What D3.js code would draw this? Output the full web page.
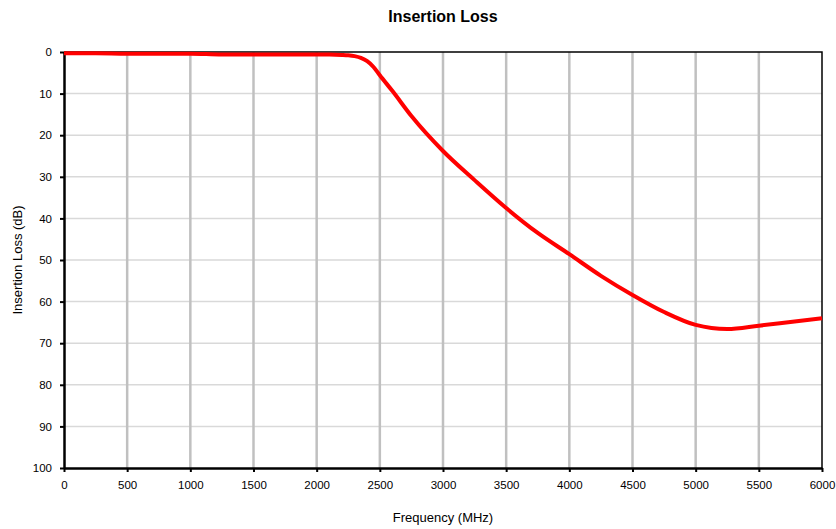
<!DOCTYPE html>
<head>
  <meta charset="utf-8">
  <title>Insertion Loss</title>
  <style>
    body { margin: 0; background: #fff; }
    text { font-family: "Liberation Sans", Arial, sans-serif; fill: #000; }
  </style>
</head>
<body>
  <div id="chart"></div>
  <script src="https://d3js.org/d3.v7.min.js"></script>
  <script>
    // data
    var freq = [0, 250, 500, 750, 1000, 1250, 1500, 1750, 2000, 2100, 2200, 2250, 2300, 2350, 2400, 2450, 2500, 2600, 2750, 3000, 3250, 3500, 3750, 4000, 4250, 4500, 4750, 5000, 5250, 5500, 5750, 6000];
    var loss = [0.3, 0.3, 0.4, 0.4, 0.4, 0.6, 0.6, 0.6, 0.6, 0.6, 0.7, 0.8, 1.0, 1.4, 2.2, 3.6, 5.6, 9.4, 15.4, 23.8, 30.8, 37.5, 43.5, 48.6, 53.8, 58.4, 62.5, 65.6, 66.6, 65.8, 64.9, 64.0];
    var xTicks = [0, 500, 1000, 1500, 2000, 2500, 3000, 3500, 4000, 4500, 5000, 5500, 6000];
    var yTicks = [0, 10, 20, 30, 40, 50, 60, 70, 80, 90, 100];

    var width = 836, height = 529;
    var margin = {top: 52, right: 14, bottom: 61, left: 64};

    var svg = d3.select("#chart")
      .append("svg")
      .attr("width", width)
      .attr("height", height);

    var x = d3.scaleLinear().domain([0, 6000]).range([margin.left, width - margin.right]);
    var y = d3.scaleLinear().domain([0, 100]).range([margin.top, height - margin.bottom]);

    // horizontal grid
    svg.append("g")
      .selectAll("line")
      .data(yTicks.slice(1, -1))
      .enter().append("line")
      .attr("x1", x(0)).attr("x2", x(6000))
      .attr("y1", d => y(d)).attr("y2", d => y(d))
      .attr("stroke", "#d9d9d9")
      .attr("stroke-width", 1.5);

    // vertical grid
    svg.append("g")
      .selectAll("line")
      .data(xTicks.slice(1, -1))
      .enter().append("line")
      .attr("x1", d => x(d)).attr("x2", d => x(d))
      .attr("y1", y(0)).attr("y2", y(100))
      .attr("stroke", "#c0c0c0")
      .attr("stroke-width", 2.5);

    // top and right frame
    svg.append("path")
      .attr("d", "M" + x(0) + "," + y(0) + "H" + x(6000) + "V" + y(100))
      .attr("fill", "none")
      .attr("stroke", "#000")
      .attr("stroke-width", 1.5);

    var xAxis = svg.append("g")
      .attr("transform", "translate(0," + y(100) + ")")
      .call(d3.axisBottom(x).tickValues(xTicks).tickFormat(d3.format("d")).tickSize(4).tickPadding(9).tickSizeOuter(0));
    var yAxis = svg.append("g")
      .attr("transform", "translate(" + x(0) + ",0)")
      .call(d3.axisLeft(y).tickValues(yTicks).tickFormat(d3.format("d")).tickSize(4).tickPadding(8).tickSizeOuter(0));

    [xAxis, yAxis].forEach(function (g) {
      g.select(".domain").attr("stroke", "#000").attr("stroke-width", 2.5);
      g.selectAll(".tick line").attr("stroke", "#000").attr("stroke-width", 2);
      g.selectAll(".tick text")
        .style("font-family", "'Liberation Sans', Arial, sans-serif")
        .style("font-size", "11.5px")
        .attr("fill", "#000");
    });

    var line = d3.line()
      .x((d, i) => x(freq[i]))
      .y(d => y(d))
      .curve(d3.curveMonotoneX);

    svg.append("path")
      .datum(loss)
      .attr("d", line)
      .attr("fill", "none")
      .attr("stroke", "#ff0000")
      .attr("stroke-width", 4)
      .attr("stroke-linejoin", "round");

    svg.append("text")
      .attr("x", 443).attr("y", 22)
      .attr("text-anchor", "middle")
      .style("font-size", "16px")
      .style("font-weight", "bold")
      .text("Insertion Loss");

    svg.append("text")
      .attr("x", 443).attr("y", 522)
      .attr("text-anchor", "middle")
      .style("font-size", "13px")
      .text("Frequency (MHz)");

    svg.append("text")
      .attr("transform", "translate(22,260) rotate(-90)")
      .attr("text-anchor", "middle")
      .style("font-size", "13px")
      .text("Insertion Loss (dB)");
  </script>
</body>
